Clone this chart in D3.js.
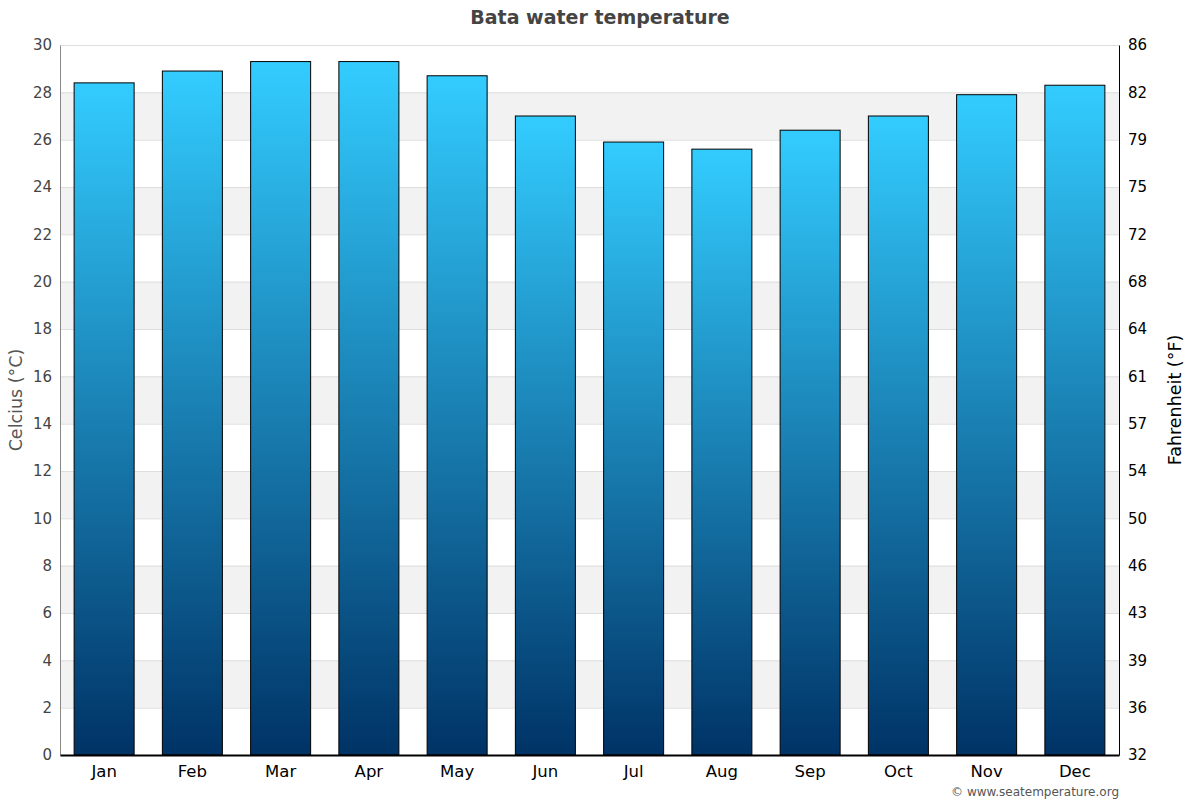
<!DOCTYPE html>
<html>
<head>
<meta charset="utf-8">
<script src="https://cdn.jsdelivr.net/npm/d3@7"></script>
<style>
  body { margin: 0; background: #fff; }
  svg, svg text { font-family: "DejaVu Sans", sans-serif; }
</style>
</head>
<body>
<div class="chart"></div>
<script>
// chart data
const months = ['Jan', 'Feb', 'Mar', 'Apr', 'May', 'Jun', 'Jul', 'Aug', 'Sep', 'Oct', 'Nov', 'Dec'];
const waterTemp = [28.4, 28.9, 29.3, 29.3, 28.7, 27.0, 25.9, 25.6, 26.4, 27.0, 27.9, 28.3];
const celsiusTicks = [0, 2, 4, 6, 8, 10, 12, 14, 16, 18, 20, 22, 24, 26, 28, 30];
const fahrenheitLabels = ['32', '36', '39', '43', '46', '50', '54', '57', '61', '64', '68', '72', '75', '79', '82', '86'];

const width = 1200, height = 800;
const margin = {top: 45, right: 81, bottom: 45, left: 60};

const svg = d3.select('.chart')
    .append('svg')
    .attr('width', width)
    .attr('height', height);

// gradient for the bars, light on top dark at bottom
const grad = svg.append('defs').append('linearGradient')
    .attr('id', 'barGrad')
    .attr('x1', 0).attr('y1', 0).attr('x2', 0).attr('y2', 1);
grad.append('stop').attr('offset', '0%').attr('stop-color', '#33ccff');
grad.append('stop').attr('offset', '100%').attr('stop-color', '#003366');

const scaleX = d3.scaleBand()
    .domain(months)
    .range([margin.left, width - margin.right])
    .paddingInner(0.32)
    .paddingOuter(0.16);

const scaleY = d3.scaleLinear()
    .domain([0, 30])
    .range([height - margin.bottom, margin.top]);

// alternating bands
svg.append('g')
    .selectAll('rect')
    .data(celsiusTicks.slice(0, -1).filter(d => (d / 2) % 2 === 1))
    .join('rect')
    .attr('x', margin.left)
    .attr('width', width - margin.right - margin.left)
    .attr('y', d => scaleY(d + 2))
    .attr('height', d => scaleY(d) - scaleY(d + 2))
    .attr('fill', '#f2f2f2');

// grid lines
svg.append('g')
    .selectAll('line')
    .data(celsiusTicks.slice(1))
    .join('line')
    .attr('x1', margin.left)
    .attr('x2', width - margin.right)
    .attr('y1', d => scaleY(d) + 0.5)
    .attr('y2', d => scaleY(d) + 0.5)
    .attr('stroke', '#dddddd');

// bars
svg.append('g')
    .selectAll('rect')
    .data(waterTemp)
    .join('rect')
    .attr('x', (d, i) => scaleX(months[i]))
    .attr('width', scaleX.bandwidth())
    .attr('y', d => scaleY(d))
    .attr('height', d => scaleY(0) - scaleY(d))
    .attr('fill', 'url(#barGrad)')
    .attr('stroke', '#000')
    .attr('stroke-width', 1);

// left axis
const leftAxis = svg.append('g')
    .attr('transform', `translate(${margin.left}, 0)`)
    .call(d3.axisLeft(scaleY).tickValues(celsiusTicks).tickSize(0).tickPadding(8))
    .attr('font-family', null);
leftAxis.select('.domain').attr('stroke', '#888');
leftAxis.selectAll('text').attr('fill', '#444').style('font-size', '15px');

// right axis with fahrenheit labels
const rightAxis = svg.append('g')
    .attr('transform', `translate(${width - margin.right}, 0)`)
    .call(d3.axisRight(scaleY).tickValues(celsiusTicks)
        .tickFormat((d, i) => fahrenheitLabels[i]).tickSize(0).tickPadding(9))
    .attr('font-family', null);
rightAxis.select('.domain').attr('stroke', '#000');
rightAxis.selectAll('text').attr('fill', '#000').style('font-size', '15px');

// bottom axis
const bottomAxis = svg.append('g')
    .attr('transform', `translate(0, ${height - margin.bottom})`)
    .call(d3.axisBottom(scaleX).tickSize(0).tickPadding(10))
    .attr('font-family', null);
bottomAxis.select('.domain').attr('stroke', '#000').attr('stroke-width', 2);
bottomAxis.selectAll('text').attr('fill', '#000').style('font-size', '16.5px');

// title
svg.append('text')
    .attr('x', 600)
    .attr('y', 24)
    .attr('text-anchor', 'middle')
    .attr('fill', '#444')
    .style('font-size', '19px')
    .style('font-weight', 'bold')
    .text('Bata water temperature');

// axis titles
svg.append('text')
    .attr('transform', `translate(22, ${(margin.top + height - margin.bottom) / 2}) rotate(-90)`)
    .attr('text-anchor', 'middle')
    .attr('fill', '#555')
    .style('font-size', '17.5px')
    .text('Celcius (°C)');

svg.append('text')
    .attr('transform', `translate(1181, ${(margin.top + height - margin.bottom) / 2}) rotate(-90)`)
    .attr('text-anchor', 'middle')
    .attr('fill', '#000')
    .style('font-size', '17.5px')
    .text('Fahrenheit (°F)');

// credit
svg.append('text')
    .attr('x', 1119)
    .attr('y', 796)
    .attr('text-anchor', 'end')
    .attr('fill', '#555')
    .style('font-size', '12px')
    .text('© www.seatemperature.org');
</script>
</body>
</html>
